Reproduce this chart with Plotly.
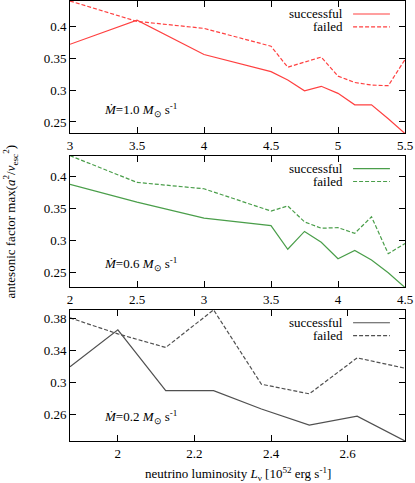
import plotly.graph_objects as go

# luminosity grid (10^52 erg/s) and antesonic factor per accretion rate
L_top = [3, 3.5, 4, 4.5, 4.625, 4.75, 4.875, 5, 5.125, 5.25, 5.375, 5.5]
succ_top = [0.372, 0.410, 0.356, 0.329, 0.316, 0.299, 0.306, 0.295, 0.277, 0.277, 0.255, 0.232]
fail_top = [0.440, 0.408, 0.397, 0.369, 0.336, 0.344, 0.352, 0.322, 0.312, 0.308, 0.307, 0.348]

L_mid = [2, 2.5, 3, 3.5, 3.625, 3.75, 3.875, 4, 4.125, 4.25, 4.375, 4.5]
succ_mid = [0.388, 0.360, 0.335, 0.323, 0.286, 0.314, 0.297, 0.271, 0.284, 0.269, 0.249, 0.226]
fail_mid = [0.433, 0.391, 0.381, 0.346, 0.354, 0.329, 0.319, 0.320, 0.311, 0.337, 0.279, 0.295]

L_bot = [1.875, 2, 2.125, 2.25, 2.375, 2.5, 2.625, 2.75]
succ_bot = [0.320, 0.366, 0.290, 0.290, 0.267, 0.247, 0.258, 0.227]
fail_bot = [0.381, 0.361, 0.344, 0.391, 0.298, 0.286, 0.331, 0.318]

xticks_top = [3, 3.5, 4, 4.5, 5, 5.5]
xticks_mid = [2, 2.5, 3, 3.5, 4, 4.5]
xticks_bot = [2, 2.2, 2.4, 2.6]
yticks_top = [0.25, 0.3, 0.35, 0.4]
yticks_mid = [0.25, 0.3, 0.35, 0.4]
yticks_bot = [0.26, 0.3, 0.34, 0.38]

mdot_labels = ['1.0', '0.6', '0.2']
colors = ['#ff4040', '#4a9e4a', '#505050']

FONT = 'Liberation Serif'

panels = [
    (L_top, succ_top, fail_top, xticks_top, yticks_top, [0.699, 1.0]),
    (L_mid, succ_mid, fail_mid, xticks_mid, yticks_mid, [0.349, 0.6485]),
    (L_bot, succ_bot, fail_bot, xticks_bot, yticks_bot, [0.0, 0.298]),
]

fig = go.Figure()
layout = {}
annotations = []
shapes = []

for i, (L, succ, fail, xt, yt, dom) in enumerate(panels):
    n = '' if i == 0 else str(i + 1)
    xa, ya = 'x' + n, 'y' + n
    c = colors[i]
    fig.add_trace(go.Scatter(x=L, y=succ, mode='lines', xaxis=xa, yaxis=ya,
                             line=dict(color=c, width=1.2), showlegend=False))
    fig.add_trace(go.Scatter(x=L, y=fail, mode='lines', xaxis=xa, yaxis=ya,
                             line=dict(color=c, width=1.2, dash='4px,2px'),
                             showlegend=False))

    ax_common = dict(showline=True, linecolor='black', linewidth=1, mirror='ticks',
                     ticks='inside', ticklen=6, tickcolor='black', showgrid=False,
                     zeroline=False, ticklabeloverflow='allow',
                     tickfont=dict(family=FONT, size=13, color='black'))
    layout['xaxis' + n] = dict(ax_common, domain=[0, 1], anchor=ya,
                               range=[min(L), max(L)], tickvals=xt,
                               ticktext=[f'{v:g}' for v in xt])
    lo, hi = min(succ + fail), max(succ + fail)
    layout['yaxis' + n] = dict(ax_common, domain=dom, anchor=xa, range=[lo, hi],
                               tickvals=yt, ticktext=[f'{v:g}' for v in yt])

    xd, yd = xa + ' domain', ya + ' domain'
    # M-dot label
    annotations.append(dict(
        text=f'<i>Ṁ</i>={mdot_labels[i]} <i>M</i><sub>⊙</sub> s<sup>-1</sup>',
        xref=xd, yref=yd, x=0.095, y=0.18, xanchor='left', yanchor='middle',
        showarrow=False, font=dict(family=FONT, size=13, color='black')))
    # legend (text left, sample right, as in gnuplot)
    for label, ypos, dash in [('successful', 0.902, 'solid'), ('failed', 0.804, '4px,2px')]:
        annotations.append(dict(text=label, xref=xd, yref=yd, x=0.821, y=ypos,
                                xanchor='right', yanchor='middle', showarrow=False,
                                font=dict(family=FONT, size=13, color='black')))
        shapes.append(dict(type='line', xref=xd, yref=yd, x0=0.845, x1=0.955,
                           y0=ypos, y1=ypos, line=dict(color=c, width=1.2, dash=dash)))

annotations.append(dict(
    text='antesonic factor max(<i>a</i><sup>2</sup>/<i>v</i><sub>esc</sub><sup>2</sup>)',
    xref='paper', yref='y2 domain', x=0, xshift=-60, y=0.5, textangle=-90,
    xanchor='center', yanchor='middle', showarrow=False,
    font=dict(family=FONT, size=13, color='black')))
annotations.append(dict(
    text='neutrino luminosity <i>L</i><sub>ν</sub> [10<sup>52</sup> erg s<sup>-1</sup>]',
    xref='paper', yref='paper', x=0.5, y=0, yshift=-33,
    xanchor='center', yanchor='middle', showarrow=False,
    font=dict(family=FONT, size=13, color='black')))

fig.update_layout(**layout)
fig.update_layout(
    width=415, height=483,
    margin=dict(l=70, r=10, t=1, b=42),
    plot_bgcolor='white', paper_bgcolor='white',
    annotations=annotations, shapes=shapes,
    font=dict(family=FONT, size=13, color='black'),
)

# drop the browser's default body margin so the figure sits at the window corner
fig.write_html('out.html', config={'displayModeBar': False},
               post_script="document.body.style.margin='0px';")
